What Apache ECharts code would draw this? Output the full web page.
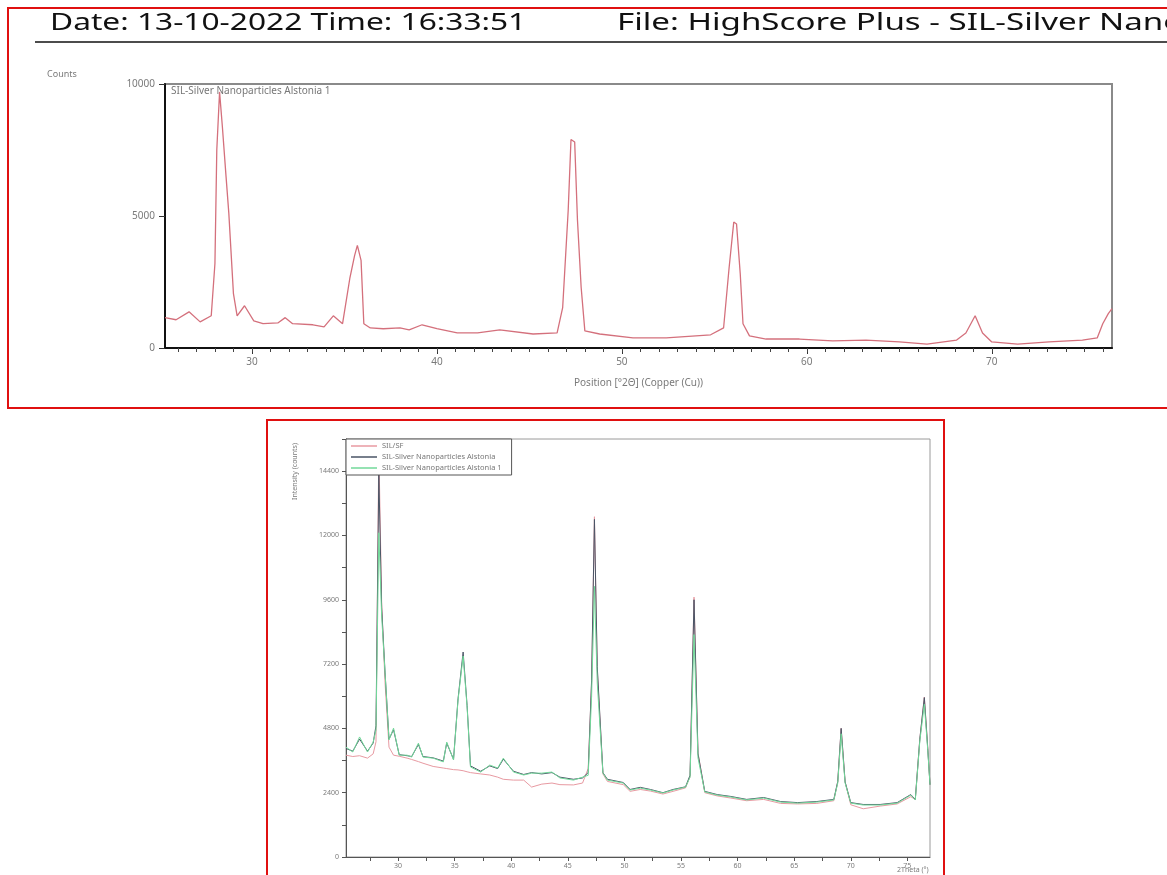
<!DOCTYPE html>
<html>
<head>
<meta charset="utf-8">
<script src="https://cdn.jsdelivr.net/npm/echarts@6/dist/echarts.min.js"></script>
<style>html,body{margin:0;padding:0;background:#fff;}#c{width:1167px;height:875px;}</style>
</head>
<body>
<div id="c"></div>
<script>
// ---------- Top panel (HighScore Plus) ----------
const topTheta = [25.3,25.9,26.6,27.2,27.8,28.0,28.1,28.25,28.4,28.6,28.75,29.0,29.2,29.6,30.1,30.6,31.4,31.8,32.2,33.3,33.9,34.4,34.9,35.3,35.55,35.7,35.9,36.05,36.4,37.1,38.0,38.5,39.2,40.0,41.1,42.2,43.4,45.2,46.5,46.8,47.1,47.25,47.45,47.6,47.8,48.0,48.8,50.6,52.4,54.8,55.5,55.8,56.05,56.2,56.4,56.55,56.9,57.8,59.6,61.4,63.2,65.0,66.5,68.1,68.6,69.1,69.5,70.0,71.4,73.1,74.9,75.7,76.0,76.3,76.5];
const topCounts = [1150,1070,1370,990,1220,3200,7500,9700,8400,6500,5110,2060,1220,1600,1030,920,950,1150,920,880,800,1220,920,2670,3500,3890,3320,920,760,730,760,690,880,730,570,570,690,530,570,1530,5230,7900,7800,4850,2290,650,530,380,380,500,760,3050,4770,4700,2820,920,460,340,340,270,300,230,150,300,570,1220,570,230,150,230,300,380,920,1300,1490];
const topXLabels = [30,40,50,60,70];
const topXMinor = [26,27,28,29,30,31,32,33,34,35,36,37,38,39,40,41,42,43,44,45,46,47,48,49,50,51,52,53,54,55,56,57,58,59,60,61,62,63,64,65,66,67,68,69,70,71,72,73,74,75,76];
const topYTicks = [0,5000,10000];

// ---------- Bottom panel (overlay) ----------
const botTheta = [25.4,26.0,26.6,27.3,27.8,28.05,28.3,28.55,28.85,29.2,29.6,30.1,30.8,31.2,31.8,32.2,33.1,34.0,34.3,34.9,35.3,35.75,36.1,36.4,37.3,38.1,38.8,39.3,40.2,41.1,41.8,42.7,43.6,44.3,45.5,46.3,46.8,47.1,47.35,47.6,48.1,48.5,49.9,50.5,51.4,52.3,53.4,54.3,55.4,55.8,56.15,56.5,57.1,58.2,59.4,60.8,62.3,63.8,65.3,67.0,68.5,68.85,69.15,69.5,70.0,71.1,72.6,74.1,75.3,75.7,76.1,76.5,76.8,77.0];
const silSF = [3800,3750,3780,3690,3850,4300,15300,9500,6500,4100,3800,3760,3690,3640,3560,3500,3380,3320,3300,3260,3250,3220,3180,3150,3100,3060,2980,2900,2870,2870,2610,2720,2760,2700,2690,2760,3300,6500,12700,7000,3100,2820,2700,2450,2520,2460,2350,2450,2580,3000,9700,3900,2400,2280,2200,2100,2150,2000,1980,2000,2100,2800,4800,2800,1950,1800,1900,1980,2250,2150,4400,5970,4100,2700];
const alstonia = [4050,3950,4400,3950,4250,4900,14300,9300,6900,4400,4750,3820,3780,3750,4200,3750,3700,3580,4250,3650,5900,7650,5650,3400,3200,3400,3300,3650,3200,3080,3150,3100,3150,2980,2900,2950,3150,6600,12600,7100,3150,2900,2780,2520,2600,2520,2400,2520,2620,3050,9600,3850,2450,2330,2260,2150,2220,2070,2030,2070,2150,2820,4800,2800,2030,1960,1960,2030,2330,2150,4400,5950,4050,2700];
const alstonia1 = [4100,3920,4480,3920,4290,4740,12100,9000,6870,4370,4810,3800,3800,3730,4250,3730,3690,3550,4290,3620,5860,7500,5600,3360,3170,3430,3320,3690,3170,3060,3130,3130,3170,2950,2870,2980,3050,6000,10100,6500,3130,2870,2760,2500,2570,2500,2390,2500,2610,2980,8300,3700,2430,2310,2240,2130,2200,2050,2010,2050,2130,2760,4600,2760,2010,1940,1940,2010,2310,2130,4330,5700,4000,2700];
const botSeriesNames = ['SIL/SF','SIL-Silver Nanoparticles Alstonia','SIL-Silver Nanoparticles Alstonia 1'];
const botXLabels = [30,35,40,45,50,55,60,65,70,75];
const botXTicks = [27.5,30,32.5,35,37.5,40,42.5,45,47.5,50,52.5,55,57.5,60,62.5,65,67.5,70,72.5,75];

const zip = (a,b) => a.map((v,i)=>[v,b[i]]);

const chart = echarts.init(document.getElementById('c'), null, {renderer:'canvas'});
const labelGray = '#7a7a7a';
const plain = v => String(v);
chart.setOption({
  animation:false,
  backgroundColor:'#fff',
  textStyle:{fontFamily:'Noto Sans, DejaVu Sans, sans-serif'},
  grid:[
    {left:165, right:55, top:84, bottom:527, show:true, borderColor:'#8a8a8a', borderWidth:2, containLabel:false},
    {left:346, right:237, top:439, bottom:18, show:true, borderColor:'#9a9a9a', borderWidth:1, containLabel:false}
  ],
  legend:{
    data:botSeriesNames, orient:'vertical', left:346, top:439,
    icon:'rect', itemWidth:26, itemHeight:1.5, itemGap:3, padding:[3,10,3,5],
    borderColor:'#555', borderWidth:1, backgroundColor:'#fff',
    textStyle:{fontSize:7.5, color:'#777'}
  },
  xAxis:[
    {gridIndex:0, type:'value', min:25.3, max:76.5, position:'bottom',
     axisLine:{lineStyle:{color:'#111', width:2}},
     axisTick:{customValues:topXLabels, length:6, lineStyle:{color:'#333'}},
     axisLabel:{customValues:topXLabels, fontSize:10, color:labelGray, margin:9, formatter:plain},
     splitLine:{show:false},
     name:'Position [°2Θ] (Copper (Cu))', nameLocation:'middle', nameGap:30,
     nameTextStyle:{fontSize:10, color:labelGray}},
    {gridIndex:0, type:'value', min:25.3, max:76.5, position:'bottom',
     axisLine:{show:false},
     axisTick:{customValues:topXMinor, length:4, lineStyle:{color:'#444'}},
     axisLabel:{show:false}, splitLine:{show:false}},
    {gridIndex:1, type:'value', min:25.4, max:77.0, position:'bottom',
     axisLine:{lineStyle:{color:'#555', width:1}},
     axisTick:{customValues:botXTicks, length:4, lineStyle:{color:'#555'}},
     axisLabel:{customValues:botXLabels, fontSize:7, color:labelGray, margin:5, formatter:plain},
     splitLine:{show:false}}
  ],
  yAxis:[
    {gridIndex:0, type:'value', min:0, max:10000, interval:5000,
     axisLine:{show:true, lineStyle:{color:'#111', width:2}},
     axisTick:{show:true, length:6, lineStyle:{color:'#333'}},
     axisLabel:{fontSize:10, color:labelGray, margin:10, formatter:plain},
     splitLine:{show:false}},
    {gridIndex:1, type:'value', min:0, max:15600, interval:1200,
     axisLine:{show:true, lineStyle:{color:'#555', width:1}},
     axisTick:{show:true, length:4, lineStyle:{color:'#555'}},
     axisLabel:{fontSize:7, color:labelGray, margin:7,
       formatter:v => (v % 2400 === 0 && v <= 14400) ? String(v) : ''},
     splitLine:{show:false}}
  ],
  series:[
    {name:'SIL-Silver Nanoparticles Alstonia 1 (top)', type:'line', xAxisIndex:0, yAxisIndex:0,
     data:zip(topTheta, topCounts), symbol:'none', lineStyle:{color:'#d4707c', width:1.3}},
    {name:botSeriesNames[0], type:'line', xAxisIndex:2, yAxisIndex:1,
     data:zip(botTheta, silSF), symbol:'none', lineStyle:{color:'#e89aa2', width:1}, itemStyle:{color:'#e89aa2'}},
    {name:botSeriesNames[1], type:'line', xAxisIndex:2, yAxisIndex:1,
     data:zip(botTheta, alstonia), symbol:'none', lineStyle:{color:'#4a5566', width:1}, itemStyle:{color:'#4a5566'}},
    {name:botSeriesNames[2], type:'line', xAxisIndex:2, yAxisIndex:1,
     data:zip(botTheta, alstonia1), symbol:'none', lineStyle:{color:'#72d99a', width:1}, itemStyle:{color:'#72d99a'}}
  ],
  graphic:[
    {type:'rect', shape:{x:8, y:8, width:1180, height:400}, style:{fill:'none', stroke:'#e01010', lineWidth:2}, z:100},
    {type:'rect', shape:{x:267, y:420, width:677, height:470}, style:{fill:'none', stroke:'#e01010', lineWidth:2}, z:100},
    {type:'text', x:50, y:11, scaleX:1.32, style:{text:'Date: 13-10-2022 Time: 16:33:51', font:'24px "Noto Sans", sans-serif', fill:'#111'}},
    {type:'text', x:617, y:11, scaleX:1.38, style:{text:'File: HighScore Plus - SIL-Silver Nanoparticles Alstonia 1.hpf', font:'24px "Noto Sans", sans-serif', fill:'#111'}},
    {type:'line', shape:{x1:35, y1:42, x2:1167, y2:42}, style:{stroke:'#111', lineWidth:1.5}},
    {type:'text', x:47, y:70, style:{text:'Counts', font:'9px "Noto Sans", sans-serif', fill:labelGray}},
    {type:'text', x:171, y:86, style:{text:'SIL-Silver Nanoparticles Alstonia 1', font:'10px "Noto Sans", sans-serif', fill:'#777'}},
    {type:'text', x:295, y:443, rotation:Math.PI/2, style:{text:'Intensity (counts)', font:'7px "Noto Sans", sans-serif', fill:labelGray, align:'right', verticalAlign:'middle'}},
    {type:'text', x:897, y:866, style:{text:'2Theta (°)', font:'7px "Noto Sans", sans-serif', fill:labelGray}}
  ]
});
</script>
</body>
</html>
